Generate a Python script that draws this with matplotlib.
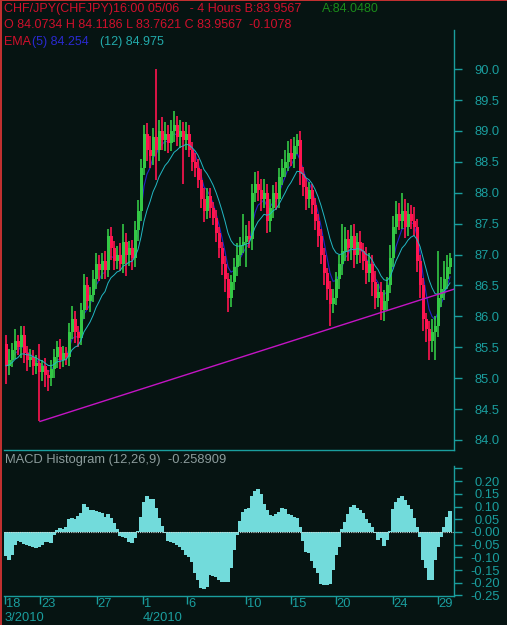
import matplotlib
matplotlib.use("Agg")
import matplotlib.pyplot as plt
import numpy as np
import pandas as pd
from matplotlib.patches import Rectangle

# 4 hour CHF/JPY bars, 18 Mar - 29 Apr 2010
first_open = 85.55
closes = [
    85.20, 85.30, 85.45, 85.60, 85.50, 85.70, 85.40, 85.30, 85.35, 85.20,
    85.25, 85.10, 85.20, 85.05, 85.00, 85.15, 85.35, 85.50, 85.30, 85.40,
    85.35, 85.75, 85.95, 85.75, 85.65, 86.10, 86.50, 86.25, 86.35, 86.60,
    86.85, 86.75, 86.90, 86.75, 87.30, 87.10, 86.90, 87.00, 86.85, 87.20,
    87.00, 87.10, 86.95, 87.40, 87.70, 88.40, 88.95, 88.70, 88.60, 88.90,
    88.70, 89.00, 88.85, 88.95, 88.80, 89.00, 89.10, 88.90, 89.00, 88.85,
    88.95, 88.70, 88.50, 88.40, 88.20, 87.90, 87.70, 87.95, 87.75, 87.60,
    87.35, 87.10, 86.85, 86.60, 86.30, 86.55, 86.80, 87.00, 87.15, 87.20,
    87.30, 87.25, 88.00, 88.15, 88.05, 87.90, 88.00, 87.55, 87.75, 88.00,
    87.90, 88.25, 88.40, 88.50, 88.65, 88.55, 88.75, 88.85, 88.30, 88.10,
    87.90, 88.05, 87.80, 87.55, 87.30, 87.00, 86.70, 86.45, 86.20, 86.30,
    86.60, 86.85, 87.05, 87.25, 87.10, 87.30, 87.00, 87.20, 87.05, 86.90,
    86.70, 86.85, 86.55, 86.30, 86.40, 86.10, 86.25, 86.50, 86.95, 87.45,
    87.65, 87.55, 87.70, 87.45, 87.65, 87.55, 87.45, 86.90, 86.50, 85.95,
    85.80, 85.60, 85.75, 85.85, 86.30, 86.45, 86.60, 86.80, 86.95,
]
wick_up = [
    0.15, 0.18, 0.12, 0.20, 0.10, 0.15, 0.14, 0.12, 0.13, 0.10,
    0.12, 0.30, 0.10, 0.12, 0.08, 0.15, 0.12, 0.10, 0.14, 0.12,
    0.10, 0.15, 0.22, 0.14, 0.10, 0.12, 0.18, 0.14, 0.12, 0.15,
    0.18, 0.14, 0.12, 0.15, 0.12, 0.15, 0.12, 0.14, 0.18, 0.30,
    0.15, 0.12, 0.14, 0.15, 0.18, 0.14, 0.15, 0.18, 0.22, 0.15,
    1.10, 0.18, 0.22, 0.20, 0.15, 0.18, 0.22, 0.15, 0.18, 0.14,
    0.20, 0.15, 0.12, 0.14, 0.15, 0.18, 0.18, 0.12, 0.12, 0.10,
    0.12, 0.10, 0.10, 0.12, 0.10, 0.12, 0.15, 0.18, 0.14, 0.45,
    0.18, 0.25, 0.15, 0.18, 0.20, 0.18, 0.22, 0.15, 0.15, 0.12,
    0.18, 0.15, 0.14, 0.20, 0.18, 0.22, 0.15, 0.10, 0.15, 0.12,
    0.14, 0.12, 0.10, 0.12, 0.10, 0.12, 0.10, 0.08, 0.12, 0.15,
    0.12, 0.15, 0.45, 0.20, 0.15, 0.18, 0.20, 0.15, 0.18, 0.14,
    0.22, 0.18, 0.15, 0.18, 0.12, 0.15, 0.18, 0.14, 0.20, 0.18,
    0.22, 0.18, 0.30, 0.20, 0.18, 0.15, 0.22, 0.12, 0.10, 0.12,
    0.10, 0.12, 0.20, 0.15, 0.75, 0.18, 0.30, 0.20, 0.08,
]
wick_dn = [
    0.30, 0.15, 0.12, 0.14, 0.12, 0.18, 0.15, 0.18, 0.12, 0.15,
    0.14, 0.80, 0.15, 0.20, 0.20, 0.12, 0.15, 0.18, 0.15, 0.12,
    0.14, 0.15, 0.12, 0.18, 0.15, 0.12, 0.14, 0.15, 0.18, 0.12,
    0.15, 0.18, 0.14, 0.15, 0.12, 0.18, 0.15, 0.14, 0.12, 0.15,
    0.35, 0.18, 0.20, 0.15, 0.18, 0.15, 0.12, 0.18, 0.20, 0.15,
    0.50, 0.18, 0.15, 0.18, 0.15, 0.12, 0.18, 0.15, 0.18, 0.70,
    0.15, 0.12, 0.15, 0.14, 0.12, 0.15, 0.18, 0.12, 0.15, 0.12,
    0.14, 0.15, 0.18, 0.20, 0.23, 0.15, 0.12, 0.15, 0.18, 0.12,
    0.40, 0.15, 0.18, 0.15, 0.18, 0.20, 0.15, 0.20, 0.18, 0.15,
    0.18, 0.15, 0.12, 0.14, 0.15, 0.12, 0.15, 0.12, 0.18, 0.15,
    0.18, 0.15, 0.14, 0.15, 0.18, 0.15, 0.20, 0.18, 0.35, 0.15,
    0.12, 0.15, 0.18, 0.15, 0.20, 0.18, 0.22, 0.15, 0.18, 0.15,
    0.18, 0.15, 0.22, 0.18, 0.15, 0.16, 0.18, 0.15, 0.12, 0.15,
    0.12, 0.15, 0.14, 0.18, 0.15, 0.14, 0.15, 0.18, 0.20, 0.18,
    0.22, 0.30, 0.18, 0.45, 0.18, 0.15, 0.18, 0.15, 0.12,
]
macd_hist = [
    -0.095, -0.110, -0.090, -0.050, -0.037, -0.040, -0.047, -0.052, -0.057, -0.060,
    -0.062, -0.060, -0.052, -0.040, -0.038, -0.045, -0.010, 0.008, 0.014, 0.012,
    0.020, 0.050, 0.055, 0.050, 0.062, 0.076, 0.110, 0.098, 0.088, 0.085,
    0.084, 0.078, 0.075, 0.060, 0.070, 0.055, 0.035, 0.012, -0.015, -0.018,
    -0.025, -0.040, -0.042, -0.022, 0.002, 0.060, 0.120, 0.140, 0.130, 0.130,
    0.095, 0.055, 0.025, -0.005, -0.035, -0.040, -0.045, -0.050, -0.058, -0.070,
    -0.090, -0.100, -0.120, -0.160, -0.190, -0.220, -0.225, -0.215, -0.170, -0.175,
    -0.178, -0.190, -0.195, -0.195, -0.195, -0.140, -0.070, -0.010, 0.045, 0.077,
    0.090, 0.095, 0.140, 0.160, 0.170, 0.150, 0.112, 0.085, 0.068, 0.062,
    0.072, 0.078, 0.095, 0.090, 0.070, 0.065, 0.060, 0.055, 0.018, -0.035,
    -0.080, -0.082, -0.115, -0.140, -0.160, -0.205, -0.207, -0.207, -0.205, -0.150,
    -0.090, -0.060, 0.010, 0.040, 0.070, 0.100, 0.105, 0.095, 0.085, 0.075,
    0.050, 0.035, 0.020, -0.005, -0.030, -0.025, -0.055, -0.030, 0.005, 0.090,
    0.120, 0.134, 0.140, 0.125, 0.107, 0.090, 0.055, 0.020, -0.020, -0.110,
    -0.140, -0.190, -0.190, -0.110, -0.060, -0.018, 0.020, 0.060, 0.082,
]
trend_x = [11.33, 149.33]
trend_y = [84.30, 86.44]

date_pos = [-0.5, 11.3, 30.2, 45.6, 60.4, 80.0, 94.9, 109.9, 128.9, 143.9]
date_labels = ["18", "23", "27", "1", "6", "10", "15", "20", "24", "29"]
month_pos = [-0.5, 45.6]
month_labels = ["3/2010", "4/2010"]
price_ticks = [84.0, 84.5, 85.0, 85.5, 86.0, 86.5, 87.0, 87.5, 88.0, 88.5, 89.0, 89.5, 90.0]
macd_ticks = [0.25, 0.20, 0.15, 0.10, 0.05, 0.0, -0.05, -0.10, -0.15, -0.20, -0.25]
macd_tick_labels = ["", "0.20", "0.15", "0.10", "0.05", "-0.00", "-0.05", "-0.10", "-0.15", "-0.20", "-0.25"]

BG = "#061412"
TEAL = "#1a9e9e"
UP = "#33c845"
DOWN = "#ff1450"
FS = 9.3
plt.rcParams["font.family"] = ["Liberation Sans", "DejaVu Sans"]
plt.rcParams["font.size"] = FS

W, H = 507, 625
fig = plt.figure(figsize=(W / 100, H / 100), dpi=100, facecolor=BG)


def px_axes(x0, y0, x1, y1):
    return fig.add_axes([x0 / W, 1 - y1 / H, (x1 - x0) / W, (y1 - y0) / H])


ax = px_axes(4, 30, 454, 450)
ax2 = px_axes(4, 466, 454, 596)

c = np.array(closes)
o = np.concatenate([[first_open], c[:-1]])
hi = np.maximum(o, c) + np.array(wick_up)
lo = np.minimum(o, c) - np.array(wick_dn)
idx = np.arange(len(c))
cols = [UP if cc >= oo else DOWN for oo, cc in zip(o, c)]

ema5 = pd.Series(c).ewm(span=5, adjust=False).mean()
ema12 = pd.Series(c).ewm(span=12, adjust=False).mean()

for a in (ax, ax2):
    a.set_facecolor(BG)
    a.set_xlim(-0.667, 149.33)
    for s in ("left", "top"):
        a.spines[s].set_visible(False)
    for s in ("right", "bottom"):
        a.spines[s].set_color(TEAL)
        a.spines[s].set_linewidth(1)
    a.yaxis.tick_right()
    a.tick_params(axis="y", colors=TEAL, length=6, width=1, pad=27, labelsize=FS)

# price panel
ax.plot(idx, ema5, color="#2424c8", lw=0.8, zorder=1)
ax.vlines(idx, lo, hi, colors=cols, lw=1.2, zorder=2)
ax.bar(idx, np.maximum(np.abs(c - o), 0.03), bottom=np.minimum(o, c), width=1.0,
       color=cols, linewidth=0, zorder=2)
ax.plot(idx, ema12, color="#22b8c4", lw=0.7, zorder=3)
ax.plot(trend_x, trend_y, color="#c414c4", lw=1, zorder=4)
ax.set_ylim(83.838, 90.634)
ax.set_yticks(price_ticks)
ax.set_yticklabels([f"{t:.1f}" for t in price_ticks])
ax.set_xticks([])
for lab in ax.get_yticklabels():
    lab.set_ha("right")

# MACD histogram panel
ax2.bar(idx, macd_hist, width=1.02, color="#72dbdb", linewidth=0, zorder=2)
ax2.axhline(0, color="#c8d8d8", lw=0.8, ls=(0, (1, 1)), zorder=3)
ax2.set_ylim(-0.252, 0.2598)
ax2.set_yticks(macd_ticks)
ax2.set_yticklabels(macd_tick_labels)
for lab in ax2.get_yticklabels():
    lab.set_ha("right")
ax2.set_xticks(date_pos)
ax2.set_xticklabels([])
ax2.tick_params(axis="x", colors=TEAL, length=6, width=1, direction="out")
tr = ax2.get_xaxis_transform()
for p, t in zip(date_pos, date_labels):
    ax2.text(p + 0.35, -0.058, t, transform=tr, color=TEAL, fontsize=FS,
             ha="left", va="center", clip_on=False)
for p, t in zip(month_pos, month_labels):
    ax2.text(p + 0.1, -0.17, t, transform=tr, color=TEAL, fontsize=FS,
             ha="left", va="center", clip_on=False)

# header texts
def ftext(x, y, s, color, fs=9):
    fig.text(x / W, 1 - y / H, s, color=color, fontsize=fs, ha="left", va="baseline")


RED = "#d0102c"
ftext(4, 12, "CHF/JPY(CHFJPY)16:00 05/06   - 4 Hours B:83.9567", RED)
ftext(322, 12, "A:84.0480", "#1a8c1a")
ftext(4, 28, "O 84.0734 H 84.1186 L 83.7621 C 83.9567  -0.1078", RED)
ftext(4, 45, "EMA", RED)
ftext(32, 45, "(5) 84.254", "#2a2ad0")
ftext(100, 45, "(12) 84.975", "#22aaaa")
ftext(5, 463, "MACD Histogram (12,26,9)  -0.258909", "#8c9c9c", FS)

# window frame
fig.add_artist(Rectangle((0, 0), 2 / W, 1, transform=fig.transFigure, color="#c03030", lw=0))
fig.add_artist(Rectangle((0, 1 - 1 / H), 1, 1 / H, transform=fig.transFigure, color="#c03030", lw=0))

fig.savefig("out.png", dpi=100, facecolor=BG)
